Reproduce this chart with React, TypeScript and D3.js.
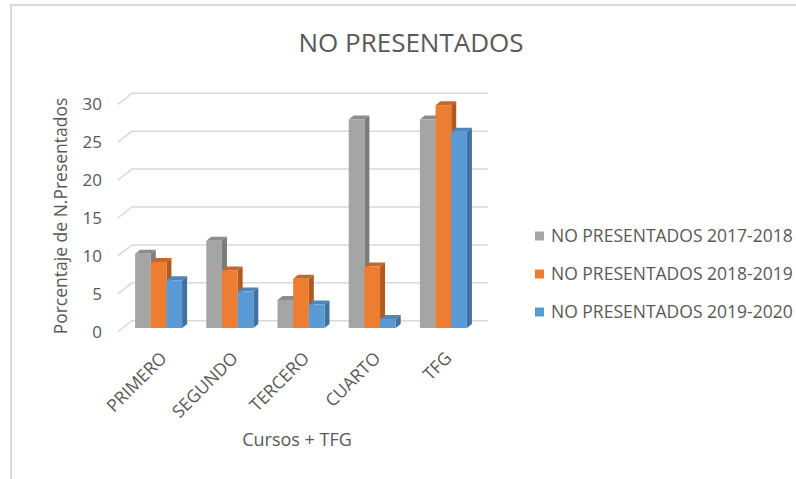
import React from 'react';
import * as d3 from 'd3';

const categories = ['PRIMERO', 'SEGUNDO', 'TERCERO', 'CUARTO', 'TFG'];
const seriesNames = ['NO PRESENTADOS 2017-2018', 'NO PRESENTADOS 2018-2019', 'NO PRESENTADOS 2019-2020'];
const values1718 = [9.8, 11.5, 3.7, 27.5, 27.5];
const values1819 = [8.7, 7.6, 6.5, 8.1, 29.4];
const values1920 = [6.3, 4.8, 3.1, 1.2, 25.9];
const yTicks = [0, 5, 10, 15, 20, 25, 30];

const colors = ['#a5a5a5', '#ed7d31', '#5b9bd5'];
const sideColors = ['#7b7b7b', '#ae5a21', '#41719c'];
const topColors = ['#8c8c8c', '#c5662a', '#4d86bb'];

const font = '"Open Sans", sans-serif';
const textColor = '#595959';
const gridColor = '#d9d9d9';

// 3D floor: back wall sits up-right of the front edge
const depthX = 14;
const depthY = 11;
// offset of bar front faces from the back wall
const barShiftX = -9;
const barShiftY = 7.3;
// bar thickness
const barDx = 5;
const barDy = -4;

export default function App() {
  const width = 796;
  const height = 479;
  const series = [values1718, values1819, values1920];

  const wallLeft = 132;
  const wallRight = 488;

  const x = d3.scaleBand<string>()
    .domain(categories)
    .range([wallLeft + barShiftX, wallRight + barShiftX])
    .paddingInner(0.34)
    .paddingOuter(0.17);

  const xs = d3.scaleBand<number>()
    .domain(d3.range(series.length))
    .range([0, x.bandwidth()]);

  // value scale for the bar front faces
  const y = d3.scaleLinear().domain([0, 30]).range([328, 100.6]);
  const yBack = (v: number) => y(v) - barShiftY;
  const yFront = (v: number) => yBack(v) + depthY;

  return (
    <svg width={width} height={height} style={{ position: 'absolute', left: 0, top: 0, background: '#fff' }}>
      <rect x={11} y={5} width={820} height={520} fill="none" stroke={gridColor} strokeWidth={2} />

      <text x={411} y={52} textAnchor="middle" fontFamily={font} fontSize={26} fill={textColor}>
        NO PRESENTADOS
      </text>

      {/* grid */}
      <g fill="none" stroke={gridColor} strokeWidth={1.5}>
        {yTicks.map(t => (
          <polyline
            key={t}
            points={`${wallLeft - depthX},${yFront(t)} ${wallLeft},${yBack(t)} ${wallRight},${yBack(t)}`}
          />
        ))}
      </g>

      {/* y tick labels */}
      <g fontFamily={font} fontSize={17} fill={textColor} textAnchor="end">
        {yTicks.map(t => (
          <text key={t} x={102} y={yFront(t)} dy="0.35em">{t}</text>
        ))}
      </g>

      <text
        transform={`translate(67,${(yFront(0) + yFront(30)) / 2 - 2}) rotate(-90)`}
        textAnchor="middle"
        fontFamily={font}
        fontSize={17.5}
        fill={textColor}
      >
        Porcentaje de N.Presentados
      </text>

      {/* bars */}
      <g>
        {categories.map((c, ci) => (
          <g key={c}>
            {series.map((vals, si) => {
              const bx = (x(c) as number) + (xs(si) as number);
              const bw = xs.bandwidth();
              const top = y(vals[ci]);
              const base = y(0);
              return (
                <g key={si}>
                  <polygon
                    points={`${bx + bw},${top} ${bx + bw + barDx},${top + barDy} ${bx + bw + barDx},${base + barDy} ${bx + bw},${base}`}
                    fill={sideColors[si]}
                  />
                  <polygon
                    points={`${bx},${top} ${bx + barDx},${top + barDy} ${bx + bw + barDx},${top + barDy} ${bx + bw},${top}`}
                    fill={topColors[si]}
                  />
                  <rect x={bx} y={top} width={bw} height={base - top} fill={colors[si]} />
                </g>
              );
            })}
          </g>
        ))}
      </g>

      {/* x labels */}
      <g fontFamily={font} fontSize={17.5} fill={textColor} textAnchor="end">
        {categories.map(c => {
          const cx = (x(c) as number) + x.bandwidth() / 2 + 5;
          return (
            <text key={c} transform={`translate(${cx},${355}) rotate(-45)`} dy="0.35em">{c}</text>
          );
        })}
      </g>

      <text x={297} y={446} textAnchor="middle" fontFamily={font} fontSize={18} fill={textColor}>
        Cursos + TFG
      </text>

      {/* legend */}
      <g fontFamily={font} fontSize={17.5} fill={textColor}>
        {seriesNames.map((n, i) => (
          <g key={n} transform={`translate(535,${236 + i * 38})`}>
            <rect x={0} y={-4.5} width={9} height={9} fill={colors[i]} />
            <text x={16} y={0} dy="0.35em">{n}</text>
          </g>
        ))}
      </g>
    </svg>
  );
}
